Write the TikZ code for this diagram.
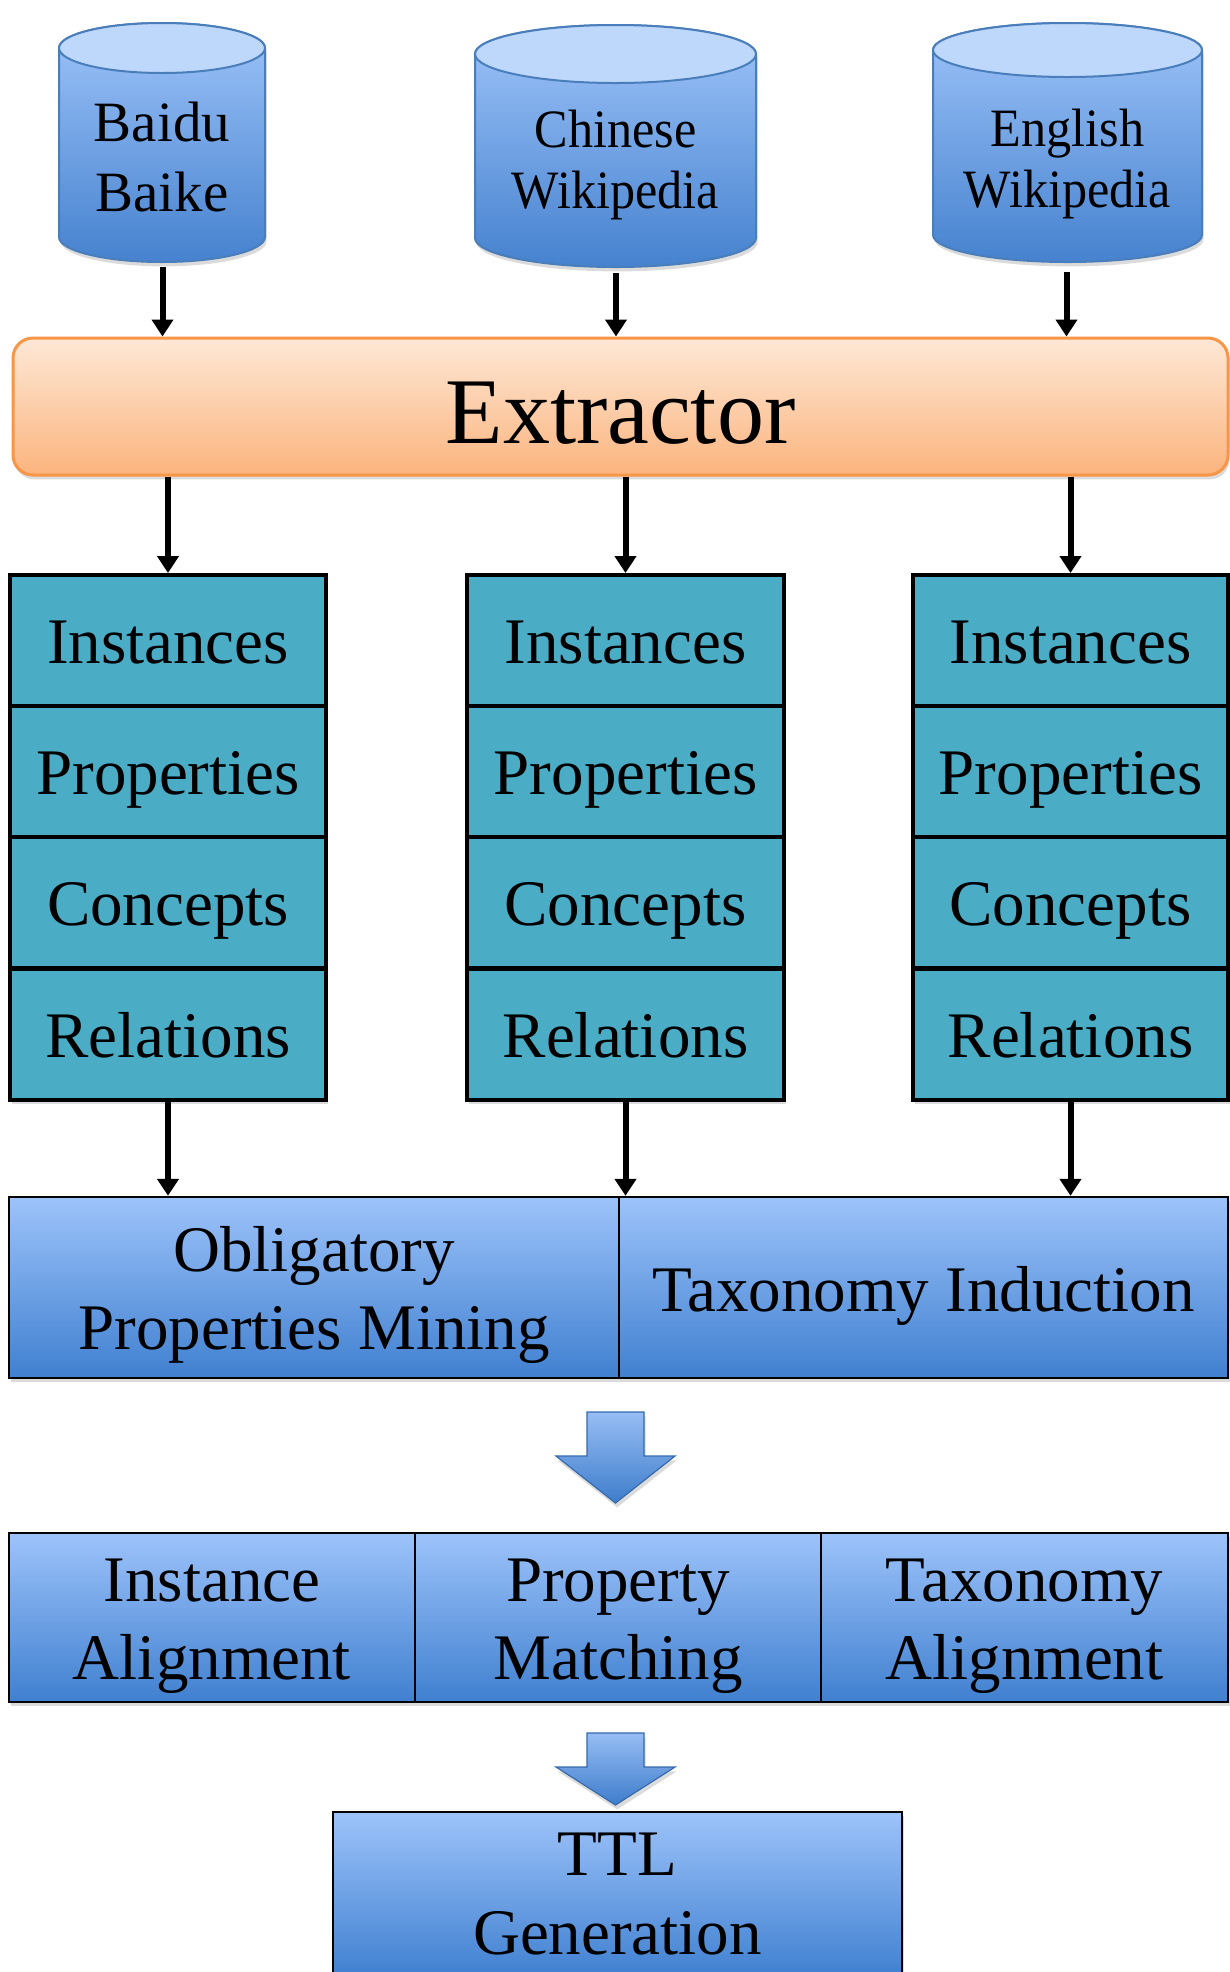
\documentclass[tikz,border=0pt]{standalone}
\usepackage{fontspec}
\setmainfont{Liberation Serif}
\usetikzlibrary{arrows.meta,shadows,calc}
\definecolor{cylTop}{HTML}{9EC4F9}
\definecolor{cylBot}{HTML}{4682CF}
\definecolor{cylCap}{HTML}{BED8FB}
\definecolor{cylLine}{HTML}{4A7EBB}
\definecolor{extTop}{HTML}{FDE8D6}
\definecolor{extBot}{HTML}{FBB47E}
\definecolor{extLine}{HTML}{F79646}
\definecolor{stackFill}{HTML}{4BACC6}
\definecolor{boxTop}{HTML}{9DC3FA}
\definecolor{boxBot}{HTML}{4080D0}
\definecolor{arrTop}{HTML}{97BDF4}
\definecolor{arrBot}{HTML}{3E7DCB}
\newcommand{\firstline}{\rule{0pt}{30pt}}
\begin{document}
\begin{tikzpicture}[x=0.5pt,y=-0.5pt,
  shadowed/.style={drop shadow={opacity=0.28,shadow xshift=0.8pt,shadow yshift=-2.2pt}},
  cylbody/.style={draw=cylLine,line width=1pt,top color=cylTop,bottom color=cylBot,shadowed},
  cylcap/.style={draw=cylLine,line width=1pt,fill=cylCap},
  cyltext/.style={align=center,inner sep=0pt},
  conn/.style={-{Triangle[width=10.5pt,length=8.5pt]},line width=3pt},
  stackcell/.style={draw=black,line width=2pt,fill=stackFill,inner sep=0pt,
     minimum height=65.5pt,text height=23pt,text depth=0pt,
     font=\fontsize{32.5}{39}\selectfont,shadowed},
  procbox/.style={draw=black,line width=1.2pt,top color=boxTop,bottom color=boxBot,
     inner sep=0pt,align=center,font=\fontsize{32.5}{38.8}\selectfont,shadowed},
  blockarrow/.style={draw=arrBot!85!black,line width=0.6pt,top color=arrTop,bottom color=arrBot,shadowed}
]
\fill[white] (0,0) rectangle (1230,1972);
\useasboundingbox (0,0) rectangle (1230,1972);

% ---------- cylinders ----------
\path[cylbody] (59,48) -- (59,237) arc[start angle=180,end angle=360,x radius=51.5pt,y radius=12.5pt]
  -- (265,48) arc[start angle=0,end angle=180,x radius=51.5pt,y radius=12.5pt] -- cycle;
\path[cylcap] (162,48) ellipse[x radius=51.5pt,y radius=12.5pt];
\node[cyltext,font=\fontsize{28.5}{35}\selectfont] (baidu) at (162,157) {Baidu\\Baike};
\coordinate (baiduB) at (162.5,267);

\path[cylbody] (475,54) -- (475,238) arc[start angle=180,end angle=360,x radius=70.25pt,y radius=14.5pt]
  -- (756,54) arc[start angle=0,end angle=180,x radius=70.25pt,y radius=14.5pt] -- cycle;
\path[cylcap] (615.5,54) ellipse[x radius=70.25pt,y radius=14.5pt];
\node[cyltext,font=\fontsize{27}{30.5}\selectfont] (chinese) at (615.5,165.5)
  {\scalebox{0.93}[1]{Chinese}\\\scalebox{0.93}[1]{Wikipedia}};
\coordinate (chineseB) at (616,273);

\path[cylbody] (933,50) -- (933,235) arc[start angle=180,end angle=360,x radius=67.25pt,y radius=13.5pt]
  -- (1202,50) arc[start angle=0,end angle=180,x radius=67.25pt,y radius=13.5pt] -- cycle;
\path[cylcap] (1067.5,50) ellipse[x radius=67.25pt,y radius=13.5pt];
\node[cyltext,font=\fontsize{27}{30.5}\selectfont] (english) at (1067.5,164)
  {\scalebox{0.93}[1]{English}\\\scalebox{0.93}[1]{Wikipedia}};
\coordinate (englishB) at (1066.5,272);

% ---------- extractor ----------
\node[draw=extLine,line width=1.5pt,top color=extTop,bottom color=extBot,rounded corners=10pt,
  minimum width=607.5pt,minimum height=68.5pt,inner sep=0pt,text height=36.8pt,text depth=0pt,
  font=\fontsize{47}{50}\selectfont,shadowed]
  (ext) at (620.5,406.5) {Extractor};

\draw[conn] (baiduB) -- (baiduB |- ext.north);
\draw[conn] (chineseB) -- (chineseB |- ext.north);
\draw[conn] (englishB) -- (englishB |- ext.north);

% ---------- stacks ----------
\foreach \nm/\cx/\w in {L/168/158, M/625.5/158.5, R/1070.5/157.5}{
  \node[stackcell,minimum width=\w pt] (\nm1) at (\cx,640.5) {Instances};
  \node[stackcell,minimum width=\w pt] (\nm2) at (\cx,771) {Properties};
  \node[stackcell,minimum width=\w pt] (\nm3) at (\cx,902) {Concepts};
  \node[stackcell,minimum width=\w pt] (\nm4) at (\cx,1034) {Relations};
}

\draw[conn] (ext.south -| L1.north) -- (L1.north);
\draw[conn] (ext.south -| M1.north) -- (M1.north);
\draw[conn] (ext.south -| R1.north) -- (R1.north);

% ---------- mining / induction ----------
\node[procbox,minimum width=305pt,minimum height=90.5pt] (opm) at (314,1287.5)
  {\firstline Obligatory\\Properties Mining};
\node[procbox,minimum width=304.5pt,minimum height=90.5pt,text height=24pt,text depth=0pt] (ti) at (923.5,1287.5)
  {Taxonomy Induction};

\draw[conn] (L4.south) -- (L4.south |- opm.north);
\draw[conn] (M4.south) -- (M4.south |- opm.north);
\draw[conn] (R4.south) -- (R4.south |- ti.north);

% ---------- block arrow 1 ----------
\path[blockarrow] (587,1412) -- (644,1412) -- (644,1456) -- (675,1456) -- (615.5,1503)
  -- (556,1456) -- (587,1456) -- cycle;

% ---------- alignment row ----------
\node[procbox,minimum width=203pt,minimum height=84.5pt] (ia) at (212,1617.5)
  {\firstline Instance\\Alignment};
\node[procbox,minimum width=203pt,minimum height=84.5pt] (pm) at (618,1617.5)
  {\firstline Property\\Matching};
\node[procbox,minimum width=203.5pt,minimum height=84.5pt] (ta) at (1024.5,1617.5)
  {\firstline Taxonomy\\Alignment};

% ---------- block arrow 2 ----------
\path[blockarrow] (587,1733) -- (644,1733) -- (644,1767) -- (675,1767) -- (615.5,1805)
  -- (556,1767) -- (587,1767) -- cycle;

% ---------- TTL generation ----------
\node[procbox,minimum width=284.5pt,minimum height=82.5pt,font=\fontsize{32.5}{39.5}\selectfont]
  (ttl) at (617.5,1894.5) {TTL\\Generation};
\end{tikzpicture}
\end{document}
